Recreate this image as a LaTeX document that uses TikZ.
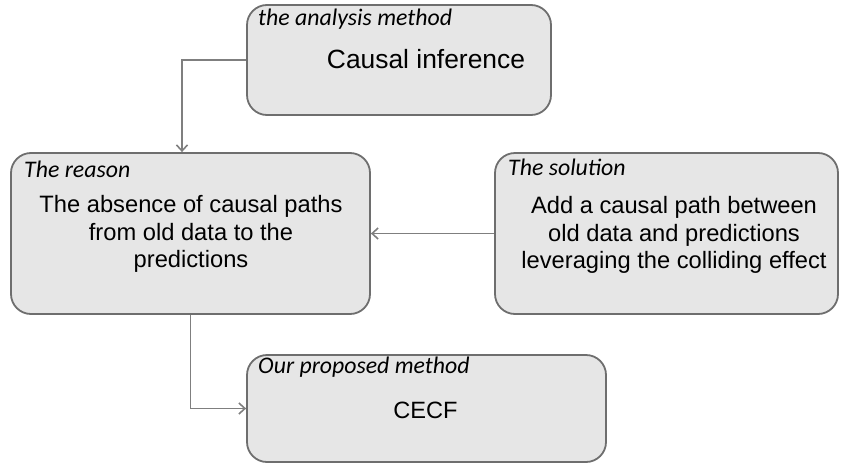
\documentclass[tikz,border=0pt]{standalone}
\usepackage{fontspec}
\setmainfont{Liberation Sans}
\newfontfamily\labelfont{Carlito}
\usetikzlibrary{arrows.meta}
\definecolor{boxfill}{HTML}{E6E6E6}
\definecolor{boxline}{HTML}{6E6E6E}
\definecolor{arrline}{HTML}{7F7F7F}
\begin{document}
\begin{tikzpicture}[x=1pt,y=-1pt,
  box/.style={draw=boxline,fill=boxfill,line width=1.8pt,rounded corners=20pt,inner sep=0pt},
  tag/.style={anchor=base west,inner sep=0pt,font=\labelfont\itshape\fontsize{23.8}{26}\selectfont},
  main/.style={align=center,inner sep=0pt,font=\fontsize{23.7}{27.8}\selectfont},
  arr/.style={draw=arrline,line width=1.8pt,-{Straight Barb[length=6pt,width=11pt,line width=1.6pt]}}]
\useasboundingbox (0,0) rectangle (842,463);
\node[box,minimum width=304pt,minimum height=110pt] (top) at (399,60) {};
\node[box,minimum width=359pt,minimum height=161pt] (reason) at (190.5,233.5) {};
\node[box,minimum width=343pt,minimum height=161pt] (sol) at (666.5,233.5) {};
\node[box,minimum width=359pt,minimum height=107pt] (bot) at (426.5,408.5) {};
\node[tag] (toptag) at (258,25) {the analysis method};
\node[tag] (reasontag) at (24,177) {The reason};
\node[tag] (soltag) at (508,175) {The solution};
\node[tag] (bottag) at (258,373) {Our proposed method};
\node[main,anchor=base,font=\fontsize{26.4}{30}\selectfont] (toptext) at (426,68) {Causal inference};
\node[main] (reasontext) at (191,234) {The absence of causal paths\\from old data to the\\predictions};
\node[main] (soltext) at (674,235) {Add a causal path between\\old data and predictions\\leveraging the colliding effect};
\node[main,anchor=base,font=\fontsize{23.6}{28}\selectfont] (bottext) at (425.5,418) {CECF};
\draw[arr] (top.west) -| ([xshift=-8.5pt]reason.north);
\draw[arr] (sol.west) -- (reason.east);
\draw[arr] (reason.south) |- (bot.west);
\end{tikzpicture}
\end{document}
